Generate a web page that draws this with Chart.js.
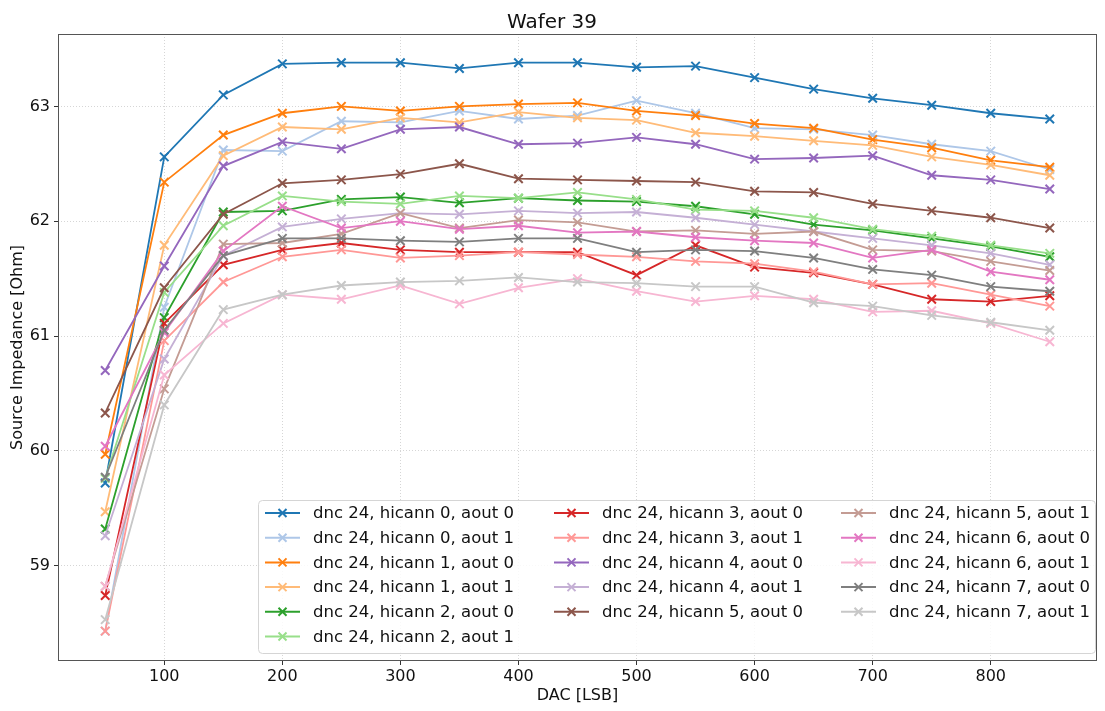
<!DOCTYPE html>
<html>
<head>
<meta charset="utf-8">
<script src="https://cdn.jsdelivr.net/npm/chart.js@4.4.0/dist/chart.umd.min.js"></script>
<style>
  html, body { margin: 0; padding: 0; background: #fff; }
  #wrap { width: 1105px; height: 711px; }
</style>
</head>
<body>
<div id="wrap"><canvas id="myChart" width="1105" height="711"></canvas></div>
<script>
// DAC [LSB] values
const dac = [50, 100, 150, 200, 250, 300, 350, 400, 450, 500, 550, 600, 650, 700, 750, 800, 850];
const xTicks = [100, 200, 300, 400, 500, 600, 700, 800];
const yTicks = [59, 60, 61, 62, 63];

// source impedance per hicann / aout
const h0a0 = [59.72, 62.56, 63.10, 63.37, 63.38, 63.38, 63.33, 63.38, 63.38, 63.34, 63.35, 63.25, 63.15, 63.07, 63.01, 62.94, 62.89];
const h0a1 = [58.43, 61.25, 62.62, 62.61, 62.87, 62.86, 62.96, 62.89, 62.92, 63.05, 62.94, 62.81, 62.80, 62.75, 62.67, 62.61, 62.45];
const h1a0 = [59.97, 62.34, 62.75, 62.94, 63.00, 62.96, 63.00, 63.02, 63.03, 62.96, 62.92, 62.85, 62.81, 62.71, 62.64, 62.53, 62.47];
const h1a1 = [59.47, 61.79, 62.57, 62.82, 62.80, 62.90, 62.86, 62.95, 62.90, 62.88, 62.77, 62.74, 62.70, 62.66, 62.56, 62.49, 62.40];
const h2a0 = [59.32, 61.16, 62.08, 62.09, 62.19, 62.21, 62.16, 62.20, 62.18, 62.17, 62.13, 62.06, 61.97, 61.92, 61.85, 61.78, 61.69];
const h2a1 = [59.76, 61.38, 61.96, 62.22, 62.17, 62.15, 62.22, 62.20, 62.25, 62.19, 62.10, 62.09, 62.03, 61.93, 61.87, 61.79, 61.72];
const h3a0 = [58.74, 61.11, 61.62, 61.75, 61.81, 61.75, 61.73, 61.73, 61.73, 61.53, 61.79, 61.60, 61.55, 61.45, 61.32, 61.30, 61.35];
const h3a1 = [58.43, 60.96, 61.47, 61.69, 61.75, 61.68, 61.70, 61.73, 61.71, 61.69, 61.65, 61.63, 61.56, 61.45, 61.46, 61.36, 61.26];
const h4a0 = [60.70, 61.61, 62.48, 62.69, 62.63, 62.80, 62.82, 62.67, 62.68, 62.73, 62.67, 62.54, 62.55, 62.57, 62.40, 62.36, 62.28];
const h4a1 = [59.26, 60.80, 61.70, 61.95, 62.02, 62.07, 62.06, 62.09, 62.07, 62.08, 62.03, 61.97, 61.91, 61.85, 61.79, 61.72, 61.62];
const h5a0 = [60.33, 61.42, 62.06, 62.33, 62.36, 62.41, 62.50, 62.37, 62.36, 62.35, 62.34, 62.26, 62.25, 62.15, 62.09, 62.03, 61.94];
const h5a1 = [58.82, 60.54, 61.80, 61.81, 61.89, 62.07, 61.94, 62.01, 61.99, 61.91, 61.92, 61.89, 61.91, 61.75, 61.74, 61.65, 61.57];
const h6a0 = [60.04, 61.03, 61.74, 62.13, 61.94, 62.00, 61.93, 61.96, 61.90, 61.91, 61.86, 61.83, 61.81, 61.68, 61.75, 61.56, 61.49];
const h6a1 = [58.82, 60.66, 61.11, 61.36, 61.32, 61.44, 61.28, 61.42, 61.50, 61.39, 61.30, 61.35, 61.32, 61.21, 61.22, 61.11, 60.95];
const h7a0 = [59.77, 61.05, 61.70, 61.85, 61.85, 61.83, 61.82, 61.85, 61.85, 61.73, 61.75, 61.74, 61.68, 61.58, 61.53, 61.43, 61.39];
const h7a1 = [58.53, 60.40, 61.23, 61.36, 61.44, 61.47, 61.48, 61.51, 61.47, 61.46, 61.43, 61.43, 61.29, 61.26, 61.18, 61.12, 61.05];

const series = [h0a0, h0a1, h1a0, h1a1, h2a0, h2a1, h3a0, h3a1, h4a0, h4a1, h5a0, h5a1, h6a0, h6a1, h7a0, h7a1];
const etiquetas = [
    'dnc 24, hicann 0, aout 0', 'dnc 24, hicann 0, aout 1',
    'dnc 24, hicann 1, aout 0', 'dnc 24, hicann 1, aout 1',
    'dnc 24, hicann 2, aout 0', 'dnc 24, hicann 2, aout 1',
    'dnc 24, hicann 3, aout 0', 'dnc 24, hicann 3, aout 1',
    'dnc 24, hicann 4, aout 0', 'dnc 24, hicann 4, aout 1',
    'dnc 24, hicann 5, aout 0', 'dnc 24, hicann 5, aout 1',
    'dnc 24, hicann 6, aout 0', 'dnc 24, hicann 6, aout 1',
    'dnc 24, hicann 7, aout 0', 'dnc 24, hicann 7, aout 1'
];
const colores = ['#1f77b4', '#aec7e8', '#ff7f0e', '#ffbb78', '#2ca02c', '#98df8a', '#d62728', '#ff9896',
                 '#9467bd', '#c5b0d5', '#8c564b', '#c49c94', '#e377c2', '#f7b6d2', '#7f7f7f', '#c7c7c7'];

const FONT = "'DejaVu Sans', sans-serif";

// frame around the plot area (matplotlib spines)
const marco = {
    id: 'marco',
    afterDatasetsDraw(chart) {
        const { ctx, chartArea: a } = chart;
        ctx.save();
        ctx.strokeStyle = '#555';
        ctx.lineWidth = 1;
        ctx.strokeRect(Math.round(a.left) + 0.5, Math.round(a.top) + 0.5,
                       Math.round(a.right - a.left) - 1, Math.round(a.bottom - a.top) - 1);
        ctx.restore();
    }
};

// legend in 3 columns, lower right inside the plot
const leyenda = {
    id: 'leyenda',
    afterDraw(chart) {
        const { ctx, chartArea: a } = chart;
        const ds = chart.data.datasets;
        const porCol = [6, 5, 5];
        const colX = [313, 602, 889];
        const fila0 = 513, paso = 24.7;
        const box = { l: 258, t: 500, r: a.right - 2, b: a.bottom - 8 };

        ctx.save();
        ctx.beginPath();
        ctx.roundRect(box.l + 0.5, box.t + 0.5, box.r - box.l, box.b - box.t, 4);
        ctx.fillStyle = 'rgba(255,255,255,0.85)';
        ctx.fill();
        ctx.strokeStyle = '#d5d5d5';
        ctx.lineWidth = 1;
        ctx.stroke();

        ctx.font = '16.5px ' + FONT;
        ctx.textBaseline = 'middle';
        ctx.textAlign = 'left';
        let i = 0;
        porCol.forEach((n, c) => {
            for (let r = 0; r < n; r++, i++) {
                const y = fila0 + r * paso;
                const tx = colX[c];
                ctx.strokeStyle = ds[i].borderColor;
                ctx.lineWidth = 2;
                ctx.beginPath();
                ctx.moveTo(tx - 48, y);
                ctx.lineTo(tx - 13, y);
                ctx.stroke();
                const cx = tx - 30.5, d = 4;
                ctx.beginPath();
                ctx.moveTo(cx - d, y - d); ctx.lineTo(cx + d, y + d);
                ctx.moveTo(cx - d, y + d); ctx.lineTo(cx + d, y - d);
                ctx.stroke();
                ctx.fillStyle = '#111';
                ctx.fillText(ds[i].label, tx, y + 1);
            }
        });
        ctx.restore();
    }
};

const datasets = series.map((valores, i) => ({
    label: etiquetas[i],
    data: dac.map((x, j) => ({ x: x, y: valores[j] })),
    borderColor: colores[i],
    backgroundColor: colores[i],
    borderWidth: 1.8,
    pointStyle: 'crossRot',
    pointRadius: 6,
    pointBorderWidth: 2,
    pointHoverRadius: 6,
    tension: 0,
    order: 16 - i
}));

const ctx = document.getElementById('myChart').getContext('2d');
const myChart = new Chart(ctx, {
    type: 'line',
    data: { datasets },
    options: {
        responsive: false,
        animation: false,
        layout: { padding: { top: 0, right: 1, bottom: 0, left: 0 } },
        plugins: {
            legend: { display: false },
            tooltip: { enabled: false },
            title: {
                display: true,
                text: 'Wafer 39',
                color: '#111',
                font: { family: FONT, size: 20, weight: 'normal' },
                padding: { top: 11, bottom: -1 }
            }
        },
        scales: {
            x: {
                type: 'linear',
                min: 10,
                max: 890,
                afterFit(scale) { scale.height = 50; },
                afterBuildTicks(scale) { scale.ticks = xTicks.map(v => ({ value: v })); },
                grid: {
                    color: '#cccccc',
                    lineWidth: 0.8,
                    tickLength: 4,
                    tickColor: '#333',
                    tickWidth: 1,
                    tickBorderDash: []
                },
                border: { display: false, dash: [1, 2] },
                ticks: {
                    color: '#111',
                    padding: 2,
                    maxRotation: 0,
                    font: { family: FONT, size: 16 },
                    callback: v => String(v)
                },
                title: {
                    display: true,
                    text: 'DAC [LSB]',
                    color: '#111',
                    font: { family: FONT, size: 16 },
                    padding: { top: 0, bottom: 6 }
                }
            },
            y: {
                min: 58.17,
                max: 63.63,
                afterFit(scale) { scale.width = 58; },
                afterBuildTicks(scale) { scale.ticks = yTicks.map(v => ({ value: v })); },
                grid: {
                    color: '#cccccc',
                    lineWidth: 0.8,
                    tickLength: 4,
                    tickColor: '#333',
                    tickWidth: 1,
                    tickBorderDash: []
                },
                border: { display: false, dash: [1, 2] },
                ticks: {
                    color: '#111',
                    padding: 4,
                    font: { family: FONT, size: 16 },
                    callback: v => String(v)
                },
                title: {
                    display: true,
                    text: 'Source Impedance [Ohm]',
                    color: '#111',
                    font: { family: FONT, size: 16 },
                    padding: { top: 8, bottom: 0 }
                }
            }
        }
    },
    plugins: [marco, leyenda]
});
</script>
</body>
</html>
